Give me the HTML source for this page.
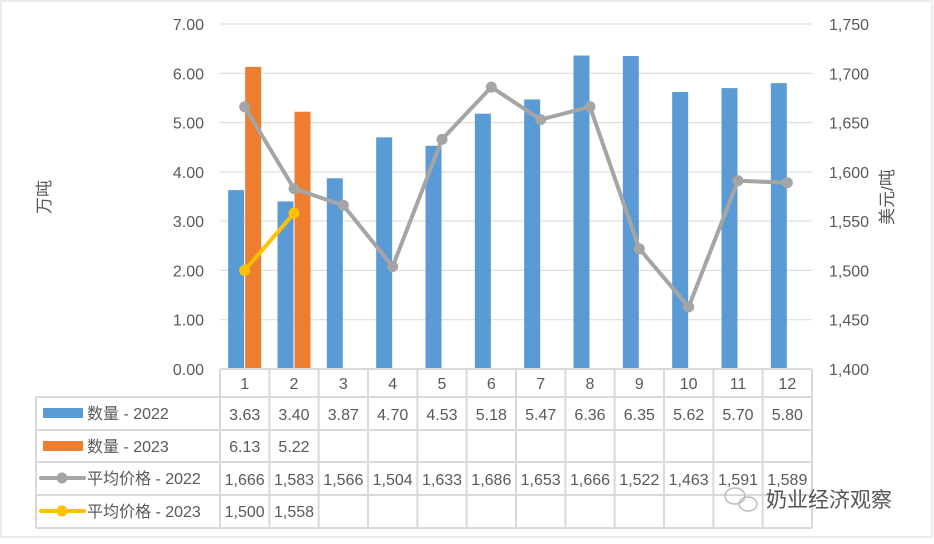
<!DOCTYPE html>
<html><head><meta charset="utf-8"><style>
body{margin:0;background:#fff;}
svg text{font-family:"Liberation Sans","Noto Sans CJK SC",sans-serif;fill:#595959;}
</style></head><body>
<svg width="934" height="539" xmlns="http://www.w3.org/2000/svg">
<rect x="1" y="1" width="931" height="536" fill="#fff" stroke="#d9d9d9"/>
<g id="grid"></g><g id="bars"></g><g id="lines"></g><g id="axes"></g><g id="table"></g>
<text x="50" y="197" font-size="17" transform="rotate(-90 50 197)" text-anchor="middle">万吨</text>
<text x="893" y="197" font-size="17" transform="rotate(-90 893 197)" text-anchor="middle">美元/吨</text>
<g>
<ellipse cx="735" cy="496" rx="10" ry="8" fill="none" stroke="#bbb" stroke-width="1.5"/>
<ellipse cx="748" cy="504" rx="9" ry="7" fill="none" stroke="#bbb" stroke-width="1.5"/>
<text x="766" y="507" font-size="21" fill="#555" style="fill:#555">奶业经济观察</text>
</g>
</svg>
<script>
const categories=["1","2","3","4","5","6","7","8","9","10","11","12"];
const qty2022=[3.63,3.40,3.87,4.70,4.53,5.18,5.47,6.36,6.35,5.62,5.70,5.80];
const qty2023=[6.13,5.22];
const price2022=[1666,1583,1566,1504,1633,1686,1653,1666,1522,1463,1591,1589];
const price2023=[1500,1558];
const leftTicks=[0,1,2,3,4,5,6,7];
const rightTicks=[1400,1450,1500,1550,1600,1650,1700,1750];
const NS="http://www.w3.org/2000/svg";
const X0=220,X1=812,Y0=369,Y1=24,cw=(X1-X0)/categories.length;
const cx=i=>X0+cw*(i+0.5);
const yL=v=>Y0-(v-0)/7*(Y0-Y1);
const yR=v=>Y0-(v-1400)/350*(Y0-Y1);
function mk(t,a,p){const e=document.createElementNS(NS,t);for(const k in a)e.setAttribute(k,a[k]);p.appendChild(e);return e;}
const G=id=>document.getElementById(id);
leftTicks.forEach((v,i)=>{
 const l=mk('line',{x1:X0,x2:X1,y1:yL(v),y2:yL(v),stroke:'#d9d9d9'},G('grid'));
 
 
 const t=mk('text',{x:204,y:yL(v)+6,'font-size':16,'text-anchor':'end'},G('axes'));t.textContent=v.toFixed(2);
 
 
});
rightTicks.forEach(v=>{
 const t=mk('text',{x:829,y:yR(v)+6,'font-size':16},G('axes'));t.textContent=v.toLocaleString('en-US');
 
 
});
qty2022.forEach((v,i)=>{
 const r=mk('rect',{x:cx(i)-16.5,y:yL(v),width:16,height:Y0-yL(v),fill:'#5b9bd5'},G('bars'));
 
 
});
qty2023.forEach((v,i)=>{
 const r=mk('rect',{x:cx(i)+0.5,y:yL(v),width:16,height:Y0-yL(v),fill:'#ed7d31'},G('bars'));
 
 
});
function line(arr,col,name){
 const p=mk('polyline',{points:arr.map((v,i)=>cx(i)+','+yR(v)).join(' '),fill:'none',stroke:col,'stroke-width':4,'stroke-linejoin':'round'},G('lines'));
 
 
 arr.forEach((v,i)=>{const c=mk('circle',{cx:cx(i),cy:yR(v),r:5.5,fill:col},G('lines'));
 
 });
}
line(price2022,'#a5a5a5','price-2022');
line(price2023,'#ffc000','price-2023');
// table
const T=G('table');const rows=[369,397,430,462,495,528];const LX=36;
const st={stroke:'#d9d9d9','stroke-width':2};
mk('line',Object.assign({x1:X0,x2:X1,y1:369,y2:369},st),T);
rows.slice(1).forEach(y=>mk('line',Object.assign({x1:LX,x2:X1,y1:y,y2:y},st),T));
mk('line',Object.assign({x1:LX,x2:LX,y1:397,y2:528},st),T);
for(let i=0;i<=categories.length;i++)mk('line',Object.assign({x1:X0+cw*i,x2:X0+cw*i,y1:369,y2:528},st),T);
function cell(txt,x,y,name){const t=mk('text',{x:x,y:y,'font-size':16,'text-anchor':'middle'},T);t.textContent=txt;
 
 }
categories.forEach((c,i)=>cell(c,cx(i),389,'category-label'));
const fmt=v=>v.toLocaleString('en-US');
qty2022.forEach((v,i)=>cell(v.toFixed(2),cx(i),420,'value-qty-2022'));
qty2023.forEach((v,i)=>cell(v.toFixed(2),cx(i),452,'value-qty-2023'));
price2022.forEach((v,i)=>cell(fmt(v),cx(i),485,'value-price-2022'));
price2023.forEach((v,i)=>cell(fmt(v),cx(i),517,'value-price-2023'));
const leg=[['数量 - 2022','#5b9bd5','bar',413],['数量 - 2023','#ed7d31','bar',446],['平均价格 - 2022','#a5a5a5','line',478],['平均价格 - 2023','#ffc000','line',511]];
leg.forEach(([lab,col,kind,y])=>{
 const g=mk('g',{},T);
 
 
 if(kind=='bar')mk('rect',{x:43,y:y-5,width:40,height:10,fill:col},g);
 else{mk('line',{x1:41,x2:84,y1:y,y2:y,stroke:col,'stroke-width':4,'stroke-linecap':'round'},g);mk('circle',{cx:62,cy:y,r:5.5,fill:col},g);}
 const t=mk('text',{x:87,y:y+6,'font-size':16},g);t.textContent=lab;
});
</script>
</body></html>
